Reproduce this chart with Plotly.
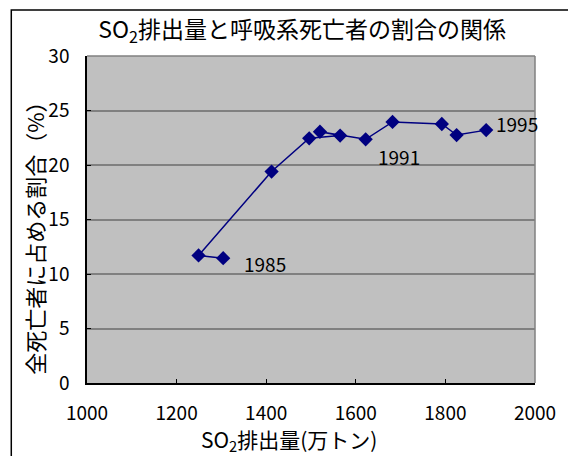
import plotly.graph_objects as go

# SO2 emissions (10,000 t) and share of respiratory deaths (%), 1985-1995 in order
years = [1985, 1986, 1987, 1988, 1989, 1990, 1991, 1992, 1993, 1994, 1995]
so2 = [1304, 1249, 1412, 1496, 1565, 1520, 1622, 1682, 1792, 1825, 1891]
share = [11.45, 11.7, 19.4, 22.45, 22.7, 23.05, 22.36, 23.95, 23.76, 22.75, 23.2]
labeled_years = [1985, 1991, 1995]

FONT = "Noto Sans CJK JP, Arial, sans-serif"
NAVY = "#000080"

fig = go.Figure()
fig.add_trace(go.Scatter(
    x=so2, y=share, mode="lines+markers",
    line=dict(color=NAVY, width=1.5),
    marker=dict(symbol="diamond", size=11, color=NAVY),
    showlegend=False, hoverinfo="skip",
))

# year labels beside selected points
offsets = {1985: (19, -5, "left"), 1991: (33, -17, "center"), 1995: (8, 7, "left")}
for yr in labeled_years:
    i = years.index(yr)
    dx, dy, anc = offsets[yr]
    fig.add_annotation(x=so2[i], y=share[i], text=str(yr), showarrow=False,
                       xanchor=anc, yanchor="middle", xshift=dx, yshift=dy,
                       font=dict(family=FONT, size=19, color="black"))

# vertical y-axis title
fig.add_annotation(xref="paper", yref="paper", x=-0.12, y=0.46,
                   text="全死亡者に占める割合（%）", textangle=-90, showarrow=False,
                   xanchor="center", yanchor="middle",
                   font=dict(family=FONT, size=22, color="black"))

# x-axis title
fig.add_annotation(xref="paper", yref="paper", x=0.45, y=-0.175,
                   text="SO<sub>2</sub>排出量(万トン)", showarrow=False,
                   xanchor="center", yanchor="middle",
                   font=dict(family=FONT, size=21, color="black"))

# outer chart frame
fig.add_shape(type="rect", xref="paper", yref="paper",
              x0=-0.169, y0=-0.6, x1=1.3, y1=1.1407,
              line=dict(color="black", width=1.5), fillcolor="rgba(0,0,0,0)")
# grey top/right edges of the plot area
fig.add_shape(type="line", xref="paper", yref="paper", x0=0, y0=1, x1=1, y1=1,
              line=dict(color="#808080", width=1.5))
fig.add_shape(type="line", xref="paper", yref="paper", x0=1, y0=0, x1=1, y1=1,
              line=dict(color="#808080", width=1.5))

fig.update_layout(
    width=568, height=456,
    margin=dict(l=87, r=25, t=56, b=73),
    paper_bgcolor="white", plot_bgcolor="#c0c0c0",
    font=dict(family=FONT, color="black"),
    title=dict(text="SO<sub>2</sub>排出量と呼吸系死亡者の割合の関係",
               x=0.532, xanchor="center", xref="container",
               y=0.935, yanchor="middle", yref="container",
               font=dict(family=FONT, size=23, color="black")),
    xaxis=dict(range=[1000, 2000], dtick=200, tick0=1000,
               showgrid=False, zeroline=False,
               showline=True, linecolor="black", linewidth=1.5,
               ticks="inside", ticklen=4, tickcolor="black",
               tickfont=dict(family=FONT, size=19), ticklabelstandoff=12),
    yaxis=dict(range=[0, 30], dtick=5, showgrid=True, gridcolor="#808080", gridwidth=1.5,
               zeroline=False, showline=True, linecolor="black", linewidth=1.5,
               ticks="inside", ticklen=4, tickcolor="black",
               tickfont=dict(family=FONT, size=19), ticklabelstandoff=12),
)

fig.write_html("out.html")
